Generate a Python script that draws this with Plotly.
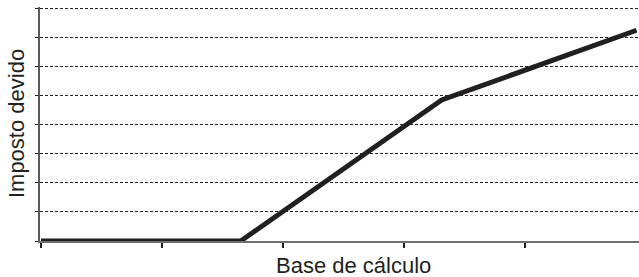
import plotly.graph_objects as go

# Data (unitless, no tick labels in the original)
base_calculo = [0.0, 1.65, 3.31, 4.92]
imposto_devido = [0.0, 0.0, 4.85, 7.25]
x_ticks = [0, 1, 2, 3, 4]
y_ticks = [0, 1, 2, 3, 4, 5, 6, 7, 8]
x_title = "Base de cálculo"
y_title = "Imposto devido"

fig = go.Figure()
fig.add_trace(go.Scatter(
    x=base_calculo, y=imposto_devido, mode="lines",
    line=dict(color="#231f20", width=5),
    cliponaxis=False, showlegend=False, hoverinfo="skip",
))

fig.update_layout(
    width=639, height=277,
    margin=dict(l=40, r=0, t=7, b=36),
    paper_bgcolor="white", plot_bgcolor="white",
    font=dict(family="Liberation Sans, Arial, sans-serif", size=22, color="#231f20"),
    xaxis=dict(
        range=[-0.008, 4.94], tickvals=x_ticks, showticklabels=False,
        ticks="outside", ticklen=5, tickwidth=1.5, tickcolor="#231f20",
        showgrid=False, zeroline=False,
        showline=True, linecolor="#6d6e71", linewidth=2,
    ),
    yaxis=dict(
        range=[0, 8.05], tickvals=y_ticks, showticklabels=False,
        ticks="outside", ticklen=3, tickwidth=1, tickcolor="#231f20",
        showgrid=True, gridcolor="#231f20", gridwidth=1, griddash="3px,2px",
        zeroline=False,
        showline=True, linecolor="#58595b", linewidth=1.5,
    ),
    annotations=[
        dict(
            text=x_title, xref="paper", yref="paper", x=0.524, y=-0.1047,
            xanchor="center", yanchor="middle", showarrow=False,
            font=dict(size=22),
        ),
        dict(
            text=y_title, xref="paper", yref="paper", x=-0.0392, y=0.502,
            xanchor="center", yanchor="middle", showarrow=False,
            textangle=-90, font=dict(size=22),
        ),
    ],
)

# remove the default 8px page margin so the figure fills the window exactly
fig.write_html(
    "out.html",
    config={"displayModeBar": False},
    post_script="document.body.style.margin='0';",
)
